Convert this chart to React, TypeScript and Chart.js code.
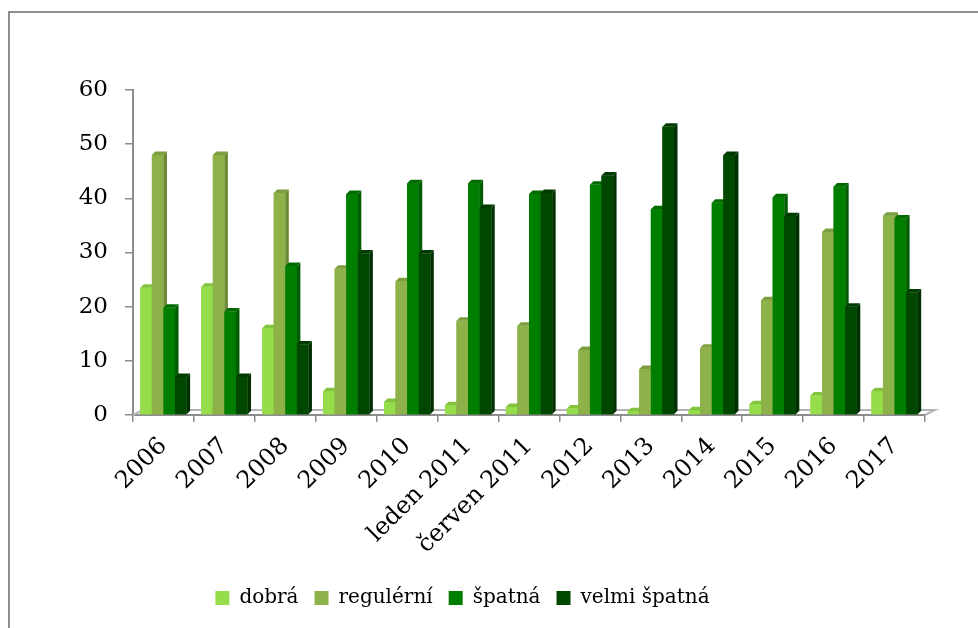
import React, { useEffect, useRef } from 'react';
import { Chart, registerables } from 'chart.js';

Chart.register(...registerables);

const categories = ['2006', '2007', '2008', '2009', '2010', 'leden 2011', 'červen 2011', '2012', '2013', '2014', '2015', '2016', '2017'];
const seriesNames = ['dobrá', 'regulérní', 'špatná', 'velmi špatná'];
const dobra = [23.5, 23.7, 16, 4.4, 2.4, 1.8, 1.5, 1.2, 0.7, 0.9, 2, 3.6, 4.4];
const regulerni = [48, 48, 41, 27, 24.7, 17.4, 16.5, 12, 8.5, 12.4, 21.2, 33.8, 36.8];
const spatna = [19.8, 19.1, 27.5, 40.8, 42.8, 42.8, 40.8, 42.5, 38, 39.2, 40.2, 42.2, 36.3];
const velmiSpatna = [7, 7, 13, 29.8, 29.8, 38.2, 41, 44.2, 53.2, 48, 36.7, 20, 22.6];
const yTicks = [0, 10, 20, 30, 40, 50, 60];

const fronts = ['#95dd4a', '#8db24a', '#007e00', '#004800'];
const sides = ['#6fae2e', '#6b8a33', '#005c00', '#003000'];
const tops = ['#82c43d', '#7d9e3f', '#006c00', '#003c00'];

const AXIS = '#8c8c8c';
const FONT = 'DejaVu Serif';

const bar3d = {
  id: 'bar3d',
  beforeDatasetsDraw(chart: any) {
    const { ctx, chartArea } = chart;
    const { left, right, bottom } = chartArea;
    ctx.save();
    ctx.strokeStyle = '#b4b4b4';
    ctx.lineWidth = 2;
    ctx.beginPath();
    ctx.moveTo(left, bottom);
    ctx.lineTo(left + 10, bottom - 5);
    ctx.lineTo(right + 10, bottom - 5);
    ctx.lineTo(right, bottom);
    ctx.stroke();
    ctx.restore();
  },
  afterDatasetsDraw(chart: any) {
    const ctx = chart.ctx;
    const dx = 3.5;
    const dy = 3.5;
    const n = chart.data.labels.length;
    const metas = chart.data.datasets.map((_: any, i: number) => chart.getDatasetMeta(i));
    ctx.save();
    for (let j = 0; j < n; j++) {
      for (let i = 0; i < metas.length; i++) {
        const el = metas[i].data[j];
        if (!el) continue;
        const { x, y, base, width } = el.getProps(['x', 'y', 'base', 'width'], true);
        const l = x - width / 2;
        const r = x + width / 2;
        ctx.fillStyle = fronts[i];
        ctx.fillRect(l, y, width, base - y);
        ctx.fillStyle = sides[i];
        ctx.beginPath();
        ctx.moveTo(r, y);
        ctx.lineTo(r + dx, y - dy);
        ctx.lineTo(r + dx, base - dy);
        ctx.lineTo(r, base);
        ctx.closePath();
        ctx.fill();
        ctx.fillStyle = tops[i];
        ctx.beginPath();
        ctx.moveTo(l, y);
        ctx.lineTo(l + dx, y - dy);
        ctx.lineTo(r + dx, y - dy);
        ctx.lineTo(r, y);
        ctx.closePath();
        ctx.fill();
      }
    }
    ctx.restore();
  },
};

export default function App() {
  const ref = useRef<HTMLCanvasElement>(null);

  useEffect(() => {
    if (!ref.current) return;
    const data = [dobra, regulerni, spatna, velmiSpatna];
    const chart = new Chart(ref.current, {
      type: 'bar',
      data: {
        labels: categories,
        datasets: data.map((d, i) => ({
          label: seriesNames[i],
          data: d,
          backgroundColor: fronts[i],
          borderWidth: 0,
          categoryPercentage: 0.76,
          barPercentage: 1,
        })),
      },
      options: {
        responsive: false,
        maintainAspectRatio: false,
        animation: false,
        devicePixelRatio: 1,
        layout: { padding: { left: 0, right: 53, top: 90, bottom: 10 } },
        plugins: {
          tooltip: { enabled: false },
          legend: {
            position: 'bottom',
            labels: {
              boxWidth: 14,
              boxHeight: 14,
              padding: 16,
              color: '#000',
              font: { family: FONT, size: 20 },
            },
          },
        },
        scales: {
          x: {
            grid: { display: true, drawOnChartArea: false, drawTicks: true, tickLength: 7, color: AXIS, lineWidth: 1.5, offset: true },
            border: { display: true, color: AXIS, width: 2 },
            ticks: {
              color: '#000',
              font: { family: FONT, size: 24 },
              minRotation: 45,
              maxRotation: 45,
              autoSkip: false,
              padding: 10,
            },
            afterFit: (s: any) => { s.height = 157; },
          },
          y: {
            min: 0,
            max: 60,
            afterBuildTicks: (s: any) => { s.ticks = yTicks.map((v) => ({ value: v })); },
            grid: { display: true, drawOnChartArea: false, drawTicks: true, tickLength: 8, color: AXIS, lineWidth: 1.5 },
            border: { display: true, color: AXIS, width: 2 },
            ticks: { color: '#000', font: { family: FONT, size: 23 }, padding: 17 },
            afterFit: (s: any) => { s.width = 133; },
          },
        },
      },
      plugins: [bar3d],
    });
    return () => chart.destroy();
  }, []);

  return (
    <div style={{ position: 'fixed', left: 0, top: 0, width: 978, height: 628, background: '#fff', overflow: 'hidden' }}>
      <div style={{ position: 'absolute', left: 8, top: 11, right: 0, bottom: 0, borderLeft: '2px solid #8f8f8f', borderTop: '2px solid #8f8f8f' }} />
      <canvas ref={ref} width={978} height={628} style={{ position: 'absolute', left: 0, top: 0, width: 978, height: 628 }} />
    </div>
  );
}
